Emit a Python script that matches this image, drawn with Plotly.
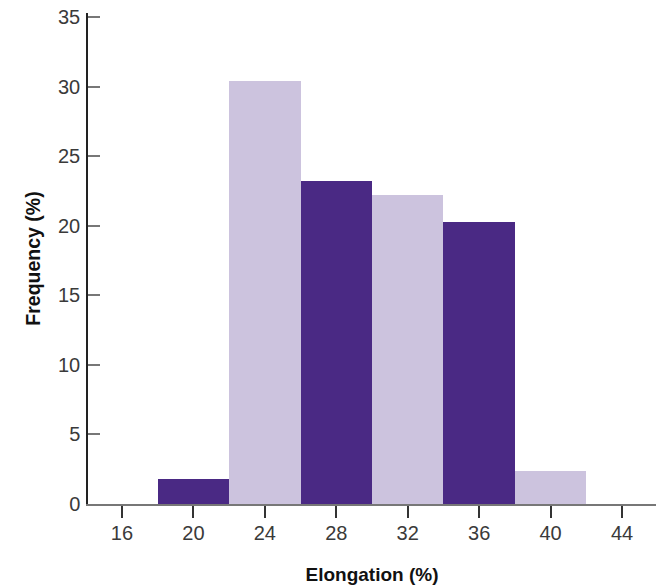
import plotly.graph_objects as go

bin_centers = [20, 24, 28, 32, 36, 40]
frequency = [1.8, 30.4, 23.2, 22.2, 20.3, 2.4]
x_ticks = [16, 20, 24, 28, 32, 36, 40, 44]
y_ticks = [0, 5, 10, 15, 20, 25, 30, 35]

dark = "#4A2984"
light = "#CCC3DE"
colors = [dark if i % 2 == 0 else light for i in range(len(bin_centers))]

fig = go.Figure(go.Bar(
    x=bin_centers, y=frequency, width=4,
    marker=dict(color=colors, line=dict(width=0)),
))

fig.update_layout(
    width=662, height=585,
    margin=dict(l=88, r=6, t=13, b=81),
    paper_bgcolor="white", plot_bgcolor="white",
    font=dict(family="Liberation Sans, Arial, sans-serif", color="#333333", size=20),
    showlegend=False,
    bargap=0,
)
fig.update_xaxes(
    range=[14.1, 45.9], tickvals=x_ticks, ticktext=[str(v) for v in x_ticks],
    showgrid=False, zeroline=False, automargin=False,
    showline=True, linecolor="#777777", linewidth=1.5,
    ticks="outside", ticklen=12, tickcolor="#333333", tickwidth=1.5,
    tickfont=dict(size=20, color="#3a3a3a"),
    ticklabelstandoff=-2,
    title=dict(text="<b>Elongation (%)</b>", font=dict(size=19, color="#111111"), standoff=25),
)
fig.update_yaxes(
    range=[0, 35.3], tickvals=y_ticks,
    showgrid=False, zeroline=False, automargin=False,
    showline=True, linecolor="#222222", linewidth=1.5,
    ticks="inside", ticklen=12, tickcolor="#777777", tickwidth=1.5,
    tickfont=dict(size=20, color="#3a3a3a"),
    ticklabelstandoff=2,
    title=dict(text="<b>Frequency (%)</b>", font=dict(size=19.5, color="#111111"), standoff=12),
)

fig.write_html(
    "out.html",
    config={"displayModeBar": False},
    post_script="document.body.style.margin='0';document.body.style.padding='0';",
)
